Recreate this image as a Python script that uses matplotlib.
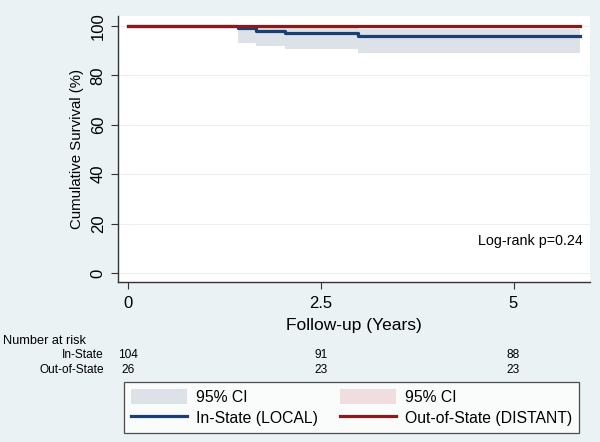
import matplotlib
matplotlib.use("Agg")
import matplotlib.pyplot as plt
from matplotlib.patches import Patch
from matplotlib.lines import Line2D
import matplotlib.transforms as mtransforms

plt.rcParams['font.family'] = ['Liberation Sans', 'DejaVu Sans']

# Kaplan-Meier estimates
in_times = [0, 1.43, 1.66, 2.04, 2.98, 5.86]
in_surv = [100, 99.0, 98.1, 97.0, 95.9, 95.9]
in_lo = [100, 93.1, 91.9, 90.6, 89.2, 89.2]
in_hi = [100, 99.9, 99.6, 99.2, 98.6, 98.6]

out_times = [0, 5.86]
out_surv = [100, 100]

risk_times = [0, 2.5, 5]
risk_in = [104, 91, 88]
risk_out = [26, 23, 23]
risk_labels = ["In-State", "Out-of-State"]

xticks = [0, 2.5, 5]
xticklabels = ["0", "2.5", "5"]
yticks = [0, 20, 40, 60, 80, 100]

bg = "#eaf2f3"
navy = "#1a3f73"
maroon = "#8b1a1a"
ci_blue = "#dde1e8"
ci_red = "#f0dde0"

fig = plt.figure(figsize=(6, 4.42), dpi=100, facecolor=bg)
ax = fig.add_axes([0.197, 0.362, 0.786, 0.602])
ax.set_facecolor("white")

ax.fill_between(in_times, in_lo, in_hi, step="post", color=ci_blue, lw=0)
ax.step(in_times, in_surv, where="post", color=navy, lw=2.3)
ax.step(out_times, out_surv, where="post", color=maroon, lw=2.3)

ax.set_xlim(-0.13, 5.99)
ax.set_ylim(-3.6, 104)
ax.set_xticks(xticks)
ax.set_xticklabels(xticklabels)
ax.set_yticks(yticks)
ax.set_yticklabels([str(v) for v in yticks], rotation=90, va="center")
ax.tick_params(axis="both", labelsize=12, length=5, width=0.8, color="#333333")
ax.tick_params(axis="x", pad=5)
ax.tick_params(axis="y", pad=4)
ax.grid(axis="y", color="#eeeeee", lw=0.8)
ax.set_axisbelow(True)
for s in ["top", "right"]:
    ax.spines[s].set_visible(False)
for s in ["left", "bottom"]:
    ax.spines[s].set_color("#333333")
    ax.spines[s].set_linewidth(1.0)

ax.set_ylabel("Cumulative Survival (%)", fontsize=10.8, labelpad=5)
ax.set_xlabel("Follow-up (Years)", fontsize=12.5, labelpad=5)

ax.text(0.985, 0.155, "Log-rank p=0.24", transform=ax.transAxes,
        ha="right", va="center", fontsize=10.3)

# number at risk table
trans = mtransforms.blended_transform_factory(ax.transData, fig.transFigure)
fig.text(0.005, 1 - 341 / 442, "Number at risk", fontsize=9.2, va="center")
row_y = [1 - 355 / 442, 1 - 370 / 442]
for lab, yy, vals in zip(risk_labels, row_y, [risk_in, risk_out]):
    fig.text(104 / 600, yy, lab, fontsize=8.6, ha="right", va="center")
    for t, v in zip(risk_times, vals):
        ax.text(t, yy, str(v), transform=trans, fontsize=8.6,
                ha="center", va="center", clip_on=False)

handles = [
    Patch(facecolor=ci_blue, edgecolor="none"),
    Line2D([], [], color=navy, lw=2.3),
    Patch(facecolor=ci_red, edgecolor="none"),
    Line2D([], [], color=maroon, lw=2.3),
]
labels = ["95% CI", "In-State (LOCAL)", "95% CI", "Out-of-State (DISTANT)"]
leg = fig.legend(handles, labels, ncol=2, loc="upper left",
                 bbox_to_anchor=(124 / 600, 1 - 382 / 442),
                 fontsize=11.3, frameon=True, fancybox=False,
                 handlelength=3.57, handleheight=1.1, handletextpad=0.57,
                 columnspacing=1.4, borderaxespad=0, labelspacing=0.3,
                 borderpad=0.45)
leg.get_frame().set_edgecolor("#222222")
leg.get_frame().set_linewidth(0.9)

fig.savefig("out.png", dpi=100, facecolor=bg)
